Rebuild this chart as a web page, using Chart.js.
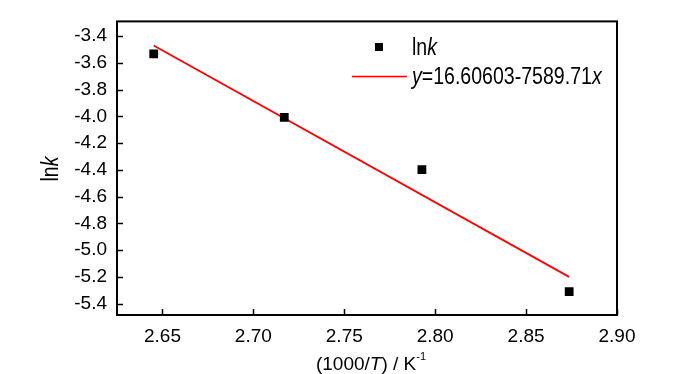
<!DOCTYPE html>
<html>
<head>
<meta charset="utf-8">
<script src="https://cdn.jsdelivr.net/npm/chart.js@4"></script>
<style>
  html, body { margin: 0; padding: 0; background: #fff; }
  #wrap { width: 700px; height: 374px; }
</style>
</head>
<body>
<div id="wrap"><canvas id="arrhenius" width="700" height="374"></canvas></div>
<script>
// data
const invTemp = [2.6452, 2.717, 2.7927, 2.8737];   // 1000/T, K^-1
const lnK = [-3.532, -4.008, -4.399, -5.31];
const fitX = [2.6452, 2.8737];
const fitY = [-3.47, -5.20];
const xTicks = [2.65, 2.70, 2.75, 2.80, 2.85, 2.90];
const yTicks = [-3.4, -3.6, -3.8, -4.0, -4.2, -4.4, -4.6, -4.8, -5.0, -5.2, -5.4];

const FONT = '"Liberation Sans", Arial, sans-serif';

// draws the frame, inward ticks, axis titles and legend
const decorations = {
    id: 'decorations',
    afterDraw(chart) {
        const ctx = chart.ctx;
        const area = chart.chartArea;
        const xs = chart.scales.x;
        const ys = chart.scales.y;
        ctx.save();

        // frame
        ctx.strokeStyle = '#000';
        ctx.lineWidth = 2;
        ctx.strokeRect(area.left, area.top, area.right - area.left, area.bottom - area.top);

        // inward ticks
        ctx.lineWidth = 1.5;
        ctx.beginPath();
        xTicks.forEach(v => {
            const px = Math.round(xs.getPixelForValue(v)) + 0.5;
            ctx.moveTo(px, area.bottom);
            ctx.lineTo(px, area.bottom - 6);
        });
        yTicks.forEach(v => {
            const py = Math.round(ys.getPixelForValue(v)) + 0.5;
            ctx.moveTo(area.left, py);
            ctx.lineTo(area.left + 6, py);
        });
        ctx.stroke();

        ctx.fillStyle = '#000';
        ctx.textBaseline = 'alphabetic';

        // y axis title "lnk" (narrow, tall lettering like the reference)
        ctx.save();
        ctx.translate(58, 169);
        ctx.rotate(-Math.PI / 2);
        drawRuns(ctx, [['ln', false], ['k', true]], 0, 0, 23, 'center', 0.85);
        ctx.restore();

        // x axis title "(1000/T) / K-1"
        const cx = (area.left + area.right) / 2 + 4;
        drawRuns(ctx, [['(1000/', false], ['T', true], [') / K', false], ['-1', false, true]], cx, 370, 19, 'center', 1);

        // legend
        const side = 8;
        ctx.fillRect(379 - side / 2, 47 - side / 2, side, side);
        drawRuns(ctx, [['ln', false], ['k', true]], 412, 55, 23, 'left', 0.85);
        ctx.strokeStyle = '#ff0000';
        ctx.lineWidth = 1.5;
        ctx.beginPath();
        ctx.moveTo(352, 76.5);
        ctx.lineTo(407, 76.5);
        ctx.stroke();
        drawRuns(ctx, [['y', true], ['=16.60603-7589.71', false], ['x', true]], 412, 83.5, 23, 'left', 0.85);

        ctx.restore();
    }
};

// draw a line of text made of plain / italic / superscript runs, squeezed by sx
function drawRuns(ctx, runs, x, y, size, align, sx) {
    const fontFor = r => (r[1] ? 'italic ' : '') + (r[2] ? Math.round(size * 0.6) : size) + 'px ' + FONT;
    let total = 0;
    runs.forEach(r => { ctx.font = fontFor(r); total += ctx.measureText(r[0]).width; });
    ctx.save();
    ctx.translate(x, y);
    ctx.scale(sx, 1);
    let pos = align === 'center' ? -total / 2 : 0;
    ctx.textAlign = 'left';
    runs.forEach(r => {
        ctx.font = fontFor(r);
        ctx.fillText(r[0], pos, r[2] ? -size * 0.55 : 0);
        pos += ctx.measureText(r[0]).width;
    });
    ctx.restore();
}

new Chart(document.getElementById('arrhenius'), {
    type: 'scatter',
    data: {
        datasets: [
            {
                label: 'lnk',
                data: invTemp.map((v, i) => ({ x: v, y: lnK[i] })),
                pointStyle: 'rect',
                pointRadius: 6.2,
                pointHoverRadius: 6.2,
                backgroundColor: '#000',
                borderColor: '#000',
                borderWidth: 0
            },
            {
                label: 'fit',
                data: fitX.map((v, i) => ({ x: v, y: fitY[i] })),
                showLine: true,
                pointRadius: 0,
                borderColor: '#ff0000',
                borderWidth: 1.8,
                fill: false
            }
        ]
    },
    options: {
        responsive: false,
        animation: false,
        events: [],
        layout: { padding: { left: 0, top: 16, right: 83, bottom: 0 } },
        plugins: {
            legend: { display: false },
            tooltip: { enabled: false }
        },
        scales: {
            x: {
                type: 'linear',
                min: 2.625,
                max: 2.90,
                grid: { display: false, drawTicks: false },
                border: { display: false },
                afterBuildTicks: scale => { scale.ticks = xTicks.map(v => ({ value: v })); },
                afterFit: scale => { scale.height = 59; },
                ticks: {
                    color: '#000',
                    padding: 10,
                    maxRotation: 0,
                    font: { family: FONT, size: 19 },
                    callback: v => v.toFixed(2)
                }
            },
            y: {
                type: 'linear',
                min: -5.485,
                max: -3.29,
                grid: { display: false, drawTicks: false },
                border: { display: false },
                afterBuildTicks: scale => { scale.ticks = yTicks.map(v => ({ value: v })); },
                afterFit: scale => { scale.width = 117; },
                ticks: {
                    color: '#000',
                    padding: 10,
                    font: { family: FONT, size: 19 },
                    callback: v => v.toFixed(1)
                }
            }
        }
    },
    plugins: [decorations]
});
</script>
</body>
</html>
